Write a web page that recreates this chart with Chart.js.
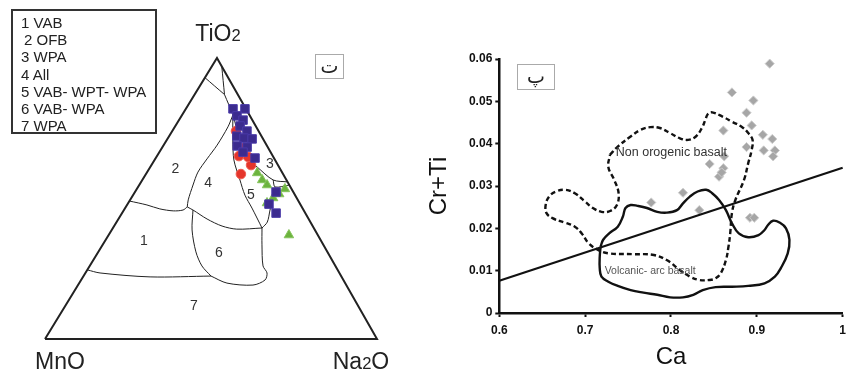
<!DOCTYPE html>
<html>
<head>
<meta charset="utf-8">
<script src="https://cdn.jsdelivr.net/npm/chart.js@4.4.1/dist/chart.umd.min.js"></script>
<style>
  body { margin: 0; background: #fff; font-family: "Liberation Sans", Arial, sans-serif; color: #222; }
  #wrap { position: relative; width: 852px; height: 373px; overflow: hidden; background: #fff; }
  canvas { position: absolute; top: 0; }
  #ternary { left: 0; }
  #scatter { left: 420px; }
  .lbl { position: absolute; white-space: nowrap; line-height: 1; transform: translate(-50%, -50%); }
  .lbl small { font-size: 0.72em; }
  #legend { position: absolute; left: 11px; top: 9px; width: 146px; height: 125px; box-sizing: border-box;
    border: 2px solid #333; padding: 3px 0 0 8px; font-size: 15px; line-height: 17.2px; color: #222; }
  .tag { position: absolute; box-sizing: border-box; border: 1px solid #aaa; font-family: "DejaVu Sans", sans-serif;
    font-size: 19px; text-align: center; color: #222; }
</style>
</head>
<body>
<div id="wrap">
  <canvas id="ternary" width="420" height="373"></canvas>
  <canvas id="scatter" width="432" height="373"></canvas>

  <div id="legend">
    <div>1 VAB</div>
    <div style="padding-left:3px">2 OFB</div>
    <div>3 WPA</div>
    <div>4 All</div>
    <div>5 VAB- WPT- WPA</div>
    <div>6 VAB- WPA</div>
    <div>7 WPA</div>
  </div>

  <div class="lbl" style="left:218px;top:33px;font-size:23px">TiO<small>2</small></div>
  <div class="lbl" style="left:60px;top:361px;font-size:23px">MnO</div>
  <div class="lbl" style="left:361px;top:361px;font-size:23px">Na<small>2</small>O</div>

  <div class="tag" style="left:315px;top:54px;width:29px;height:25px;line-height:22px">ت</div>
  <div class="tag" style="left:517px;top:64px;width:38px;height:26px;line-height:23px">پ</div>
</div>

<script>
//ternary diagram: samples as [TiO2, MnO, Na2O] in %
const purpleSamples = [
  [81.9, 3.9, 14.2], [81.9, 0.3, 17.8], [79.4, 3.9, 16.7], [77.9, 2.8, 19.3],
  [75.8, 4.7, 19.5], [74.0, 3.5, 22.5], [72.2, 7.4, 20.4], [71.5, 5.6, 22.9],
  [71.2, 3.3, 25.5], [68.7, 9.0, 22.3], [68.3, 6.2, 25.5], [66.5, 8.3, 25.2],
  [64.4, 5.7, 29.9], [52.3, 5.2, 42.5], [48.0, 9.4, 42.6], [44.8, 8.8, 46.4]
];
const redSamples = [
  [74.0, 6.8, 19.2], [68.0, 7.3, 24.7], [65.1, 10.2, 24.7],
  [61.9, 8.1, 30.0], [58.7, 12.7, 28.6], [64.8, 7.6, 27.6]
];
const greenSamples = [
  [59.1, 7.6, 33.3], [56.6, 7.3, 36.1], [54.8, 6.7, 38.5], [53.4, 2.0, 44.6],
  [50.2, 7.1, 42.7], [48.4, 9.8, 41.8], [37.0, 8.7, 54.3], [51.6, 4.6, 43.8]
];

//field boundaries, each point is [TiO2, Na2O] (MnO is the rest)
const fieldLines = [
  [[93, 0], [87, 9]],
  [[97, 3], [87, 9]],
  [[87, 9], [79.7, 15.3], [70.8, 22.0], [63.7, 28.1], [61.2, 32.2]],
  [[61.2, 32.2], [56.6, 39.4], [55.9, 44.1]],
  [[56.6, 39.4], [54.1, 41.3], [54.8, 45.2]],
  [[54.1, 41.3], [45.9, 44.0], [41.6, 45.4], [39.5, 44.9]],
  [[79.7, 15.3], [75.5, 16.0], [69.0, 16.1], [64.1, 15.6], [59.4, 15.3], [54.8, 16.2], [49.5, 17.5], [47.0, 18.5]],
  [[79.7, 15.3], [70.8, 19.9], [63.7, 23.9], [56.6, 29.4], [51.2, 33.7], [46.6, 38.2], [39.5, 44.9]],
  [[49.1, 0], [47.7, 6.0], [46.3, 10.6], [45.6, 15.0], [45.9, 17.8], [47.0, 18.5]],
  [[47.0, 18.5], [45.9, 20.8], [42.7, 26.7], [40.2, 32.5], [39.1, 37.5], [39.5, 44.9]],
  [[45.9, 20.8], [38.8, 24.2], [31.0, 29.4], [26.0, 33.8], [22.4, 38.4]],
  [[24.6, 0], [23.5, 4.4], [22.1, 20.2], [22.4, 38.4]],
  [[22.4, 38.4], [19.9, 44.5], [19.2, 52.7], [21.0, 55.4], [23.5, 54.7], [26.0, 52.2], [33.5, 48.0], [39.5, 44.9]]
];
const fieldNames = ["1", "2", "3", "4", "5", "6", "7"];
const fieldLabelPos = [[34.9, 11.7], [60.5, 7.9], [62.3, 35.5], [55.5, 20.4], [51.2, 35.5], [30.6, 36.5], [11.7, 38.8]];
const corners = [[0, 100, 0], [0, 0, 100], [100, 0, 0], [0, 100, 0]];

//Cr+Ti vs Ca diagram
const caValues = [0.915, 0.871, 0.896, 0.888, 0.894, 0.861, 0.907, 0.918, 0.888, 0.908, 0.921,
  0.919, 0.862, 0.845, 0.861, 0.856, 0.859, 0.777, 0.814, 0.833, 0.892, 0.897];
const crTiValues = [0.0589, 0.0521, 0.0502, 0.0473, 0.0443, 0.0431, 0.0421, 0.0411, 0.0392, 0.0384, 0.0384,
  0.0370, 0.0370, 0.0352, 0.0342, 0.0322, 0.0332, 0.0261, 0.0284, 0.0243, 0.0225, 0.0225];
const nonOrogenicField = [
  [0.729, 0.0374], [0.738, 0.0393], [0.753, 0.0417], [0.765, 0.0433], [0.776, 0.0439], [0.787, 0.0437],
  [0.799, 0.0425], [0.810, 0.0413], [0.820, 0.0409], [0.829, 0.0417], [0.836, 0.0437], [0.840, 0.0456],
  [0.843, 0.0470], [0.848, 0.0474], [0.860, 0.0464], [0.871, 0.0452], [0.883, 0.0439], [0.890, 0.0425],
  [0.895, 0.0409], [0.894, 0.0385], [0.890, 0.0354], [0.885, 0.0314], [0.875, 0.0267], [0.871, 0.0236],
  [0.869, 0.0188], [0.867, 0.0157], [0.864, 0.0125], [0.858, 0.0094], [0.852, 0.0082], [0.845, 0.0078],
  [0.833, 0.0078], [0.822, 0.0086], [0.810, 0.0102], [0.795, 0.0125], [0.780, 0.0137], [0.757, 0.0139],
  [0.727, 0.0141], [0.715, 0.0149], [0.704, 0.0165], [0.696, 0.0188], [0.688, 0.0204], [0.677, 0.0213],
  [0.662, 0.0224], [0.655, 0.0236], [0.654, 0.0255], [0.658, 0.0275], [0.666, 0.0287], [0.677, 0.0291],
  [0.688, 0.0283], [0.700, 0.0263], [0.709, 0.0248], [0.719, 0.0239], [0.729, 0.0241], [0.737, 0.0255],
  [0.739, 0.0283], [0.734, 0.0314], [0.727, 0.0345], [0.729, 0.0374]
];
const volcanicArcField = [
  [0.718, 0.0157], [0.721, 0.0173], [0.728, 0.0188], [0.738, 0.0204], [0.744, 0.0228], [0.747, 0.0248],
  [0.753, 0.0255], [0.761, 0.0253], [0.772, 0.0248], [0.784, 0.0239], [0.795, 0.0237], [0.807, 0.0243],
  [0.814, 0.0259], [0.822, 0.0275], [0.831, 0.0287], [0.841, 0.0291], [0.848, 0.0283], [0.856, 0.0267],
  [0.864, 0.0243], [0.871, 0.0212], [0.879, 0.0188], [0.890, 0.0179], [0.902, 0.0184], [0.909, 0.0196],
  [0.913, 0.0208], [0.919, 0.0218], [0.927, 0.0213], [0.934, 0.0200], [0.938, 0.0173], [0.936, 0.0141],
  [0.928, 0.0106], [0.921, 0.0086], [0.909, 0.0070], [0.890, 0.0064], [0.871, 0.0062], [0.852, 0.0061],
  [0.837, 0.0054], [0.826, 0.0043], [0.814, 0.0037], [0.799, 0.0037], [0.784, 0.0043], [0.768, 0.0048],
  [0.753, 0.0054], [0.738, 0.0064], [0.727, 0.0074], [0.719, 0.0086], [0.717, 0.0106], [0.717, 0.0133],
  [0.718, 0.0157]
];
const dividerLine = [[0.6, 0.0076], [1.0, 0.0343]];
const caTicks = [0.6, 0.7, 0.8, 0.9, 1];
const crTiTicks = [0, 0.01, 0.02, 0.03, 0.04, 0.05, 0.06];
const fieldTexts = [
  { text: "Non orogenic basalt", at: [0.7357, 0.0379], font: "12.5px 'Liberation Sans', Arial", color: "#333" },
  { text: "Volcanic- arc basalt", at: [0.7227, 0.0100], font: "10.5px 'Liberation Sans', Arial", color: "#555" }
];

//ternary -> plane (TiO2 corner sits a bit right of the middle like in the figure)
const APEX = 0.518;
function fromPair(ti, na) {
  return { x: na / 100 + APEX * ti / 100, y: ti / 100 };
}
function fromTriple(s) {
  const sum = s[0] + s[1] + s[2];
  return fromPair(s[0] * 100 / sum, s[2] * 100 / sum);
}

function lineSet(points, width, tension) {
  return {
    data: points,
    showLine: true,
    borderColor: "#222",
    borderWidth: width,
    pointRadius: 0,
    tension,
    fill: false,
    clip: false,
    order: 5,
  };
}
function sampleSet(samples, style, color, edge, radius, order) {
  return {
    data: samples.map(fromTriple),
    pointStyle: style,
    pointRadius: radius,
    backgroundColor: color,
    borderColor: edge,
    borderWidth: 1,
    clip: false,
    order,
  };
}

const fieldLabels = {
  id: "fieldLabels",
  beforeDatasetsDraw(chart) {
    const { ctx, scales } = chart;
    ctx.save();
    ctx.font = "14px 'Liberation Sans', Arial";
    ctx.fillStyle = "#333";
    ctx.textAlign = "center";
    ctx.textBaseline = "middle";
    fieldNames.forEach((name, i) => {
      const p = fromPair(fieldLabelPos[i][0], fieldLabelPos[i][1]);
      ctx.fillText(name, scales.x.getPixelForValue(p.x), scales.y.getPixelForValue(p.y));
    });
    ctx.restore();
  },
};

const ternaryDatasets = [
  sampleSet(purpleSamples, "rect", "#3b2b8e", "#4a3aa8", 6, 0),
  sampleSet(redSamples, "circle", "#e5352b", "#ee5a4e", 4.8, 1),
  sampleSet(greenSamples, "triangle", "#6cb33e", "#86c45c", 5.5, 2),
  lineSet(corners.map(fromTriple), 2, 0),
];
fieldLines.forEach((line) => {
  ternaryDatasets.push(lineSet(line.map((p) => fromPair(p[0], p[1])), 1, 0.3));
});

new Chart(document.getElementById("ternary"), {
  type: "scatter",
  data: { datasets: ternaryDatasets },
  options: {
    responsive: false,
    animation: false,
    layout: { padding: { left: 45, top: 58, right: 43, bottom: 34 } },
    plugins: { legend: { display: false }, tooltip: { enabled: false } },
    scales: {
      x: { type: "linear", min: 0, max: 1, display: false },
      y: { type: "linear", min: 0, max: 1, display: false },
    },
  },
  plugins: [fieldLabels],
});

//right plot
const fieldTextPlugin = {
  id: "fieldTexts",
  afterDatasetsDraw(chart) {
    const { ctx, scales } = chart;
    ctx.save();
    ctx.textAlign = "left";
    ctx.textBaseline = "middle";
    fieldTexts.forEach((t) => {
      ctx.font = t.font;
      ctx.fillStyle = t.color;
      ctx.fillText(t.text, scales.x.getPixelForValue(t.at[0]), scales.y.getPixelForValue(t.at[1]));
    });
    ctx.restore();
  },
};

const tickFont = { family: "'Liberation Sans', Arial", size: 12, weight: "bold" };
const toXY = (p) => ({ x: p[0], y: p[1] });

new Chart(document.getElementById("scatter"), {
  type: "scatter",
  data: {
    datasets: [
      {
        data: caValues.map((c, i) => ({ x: c, y: crTiValues[i] })),
        pointStyle: "rectRot",
        pointRadius: 4.6,
        backgroundColor: "#a6a6a6",
        borderColor: "#cdcdcd",
        borderWidth: 1,
        clip: false,
        order: 3,
      },
      {
        data: nonOrogenicField.map(toXY),
        showLine: true,
        borderColor: "#111",
        borderWidth: 2.4,
        borderDash: [5, 3],
        pointRadius: 0,
        tension: 0.4,
        clip: false,
        order: 1,
      },
      {
        data: volcanicArcField.map(toXY),
        showLine: true,
        borderColor: "#111",
        borderWidth: 2.4,
        pointRadius: 0,
        tension: 0.4,
        clip: false,
        order: 1,
      },
      {
        data: dividerLine.map(toXY),
        showLine: true,
        borderColor: "#111",
        borderWidth: 2.2,
        pointRadius: 0,
        clip: false,
        order: 1,
      },
    ],
  },
  options: {
    responsive: false,
    animation: false,
    layout: { padding: { left: 0, top: 59, right: 3, bottom: 0 } },
    plugins: { legend: { display: false }, tooltip: { enabled: false } },
    scales: {
      x: {
        type: "linear",
        min: 0.6,
        max: 1,
        afterBuildTicks: (s) => { s.ticks = caTicks.map((v) => ({ value: v })); },
        afterFit: (s) => { s.height = 60; },
        ticks: { font: tickFont, color: "#111", padding: 6, callback: (v) => String(+v.toFixed(2)) },
        grid: { drawOnChartArea: false, drawTicks: true, tickLength: 4, tickWidth: 2, tickColor: "#111" },
        border: { display: true, color: "#111", width: 2.5 },
        title: { display: true, text: "Ca", color: "#111", font: { family: "'Liberation Sans', Arial", size: 24 }, padding: { top: 0, bottom: 1 } },
      },
      y: {
        type: "linear",
        min: 0,
        max: 0.06,
        afterBuildTicks: (s) => { s.ticks = crTiTicks.map((v) => ({ value: v })); },
        afterFit: (s) => { s.width = 79.3; },
        ticks: { font: tickFont, color: "#111", padding: 3, callback: (v) => String(+v.toFixed(2)) },
        grid: { drawOnChartArea: false, drawTicks: true, tickLength: 4, tickWidth: 2, tickColor: "#111" },
        border: { display: true, color: "#111", width: 2.5 },
        title: { display: true, text: "Cr+Ti", color: "#111", font: { family: "'Liberation Sans', Arial", size: 24 }, padding: { top: 5, bottom: 0 } },
      },
    },
  },
  plugins: [fieldTextPlugin],
});
</script>
</body>
</html>
